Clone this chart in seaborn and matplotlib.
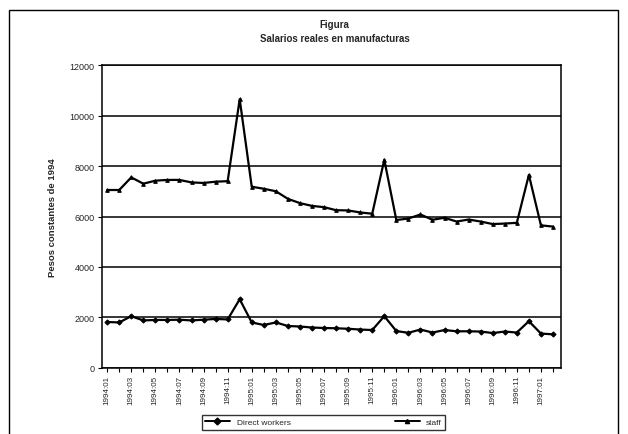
import numpy as np
import pandas as pd
import matplotlib
matplotlib.use('Agg')
import matplotlib.pyplot as plt
from matplotlib.patches import Rectangle
import seaborn as sns

sns.set_style('white')
plt.rcParams['font.family'] = ['Liberation Sans', 'DejaVu Sans']

# meses 1994:01 - 1997:02
months = [f'{y}:{m:02d}' for y in (1994, 1995, 1996) for m in range(1, 13)] + ['1997:01', '1997:02']

staff = [7050, 7050, 7550, 7300, 7420, 7450, 7450, 7350, 7330, 7380,
         7400, 10650, 7180, 7100, 7000, 6700, 6530, 6420, 6370, 6250,
         6240, 6160, 6110, 8250, 5860, 5920, 6080, 5870, 5950, 5800,
         5880, 5800, 5700, 5720, 5750, 7650, 5650, 5600]

direct_workers = [1820, 1800, 2050, 1880, 1900, 1900, 1910, 1880, 1910, 1940,
                  1920, 2720, 1800, 1700, 1800, 1660, 1640, 1600, 1580, 1570,
                  1550, 1520, 1500, 2050, 1460, 1390, 1520, 1400, 1500, 1450,
                  1450, 1440, 1380, 1440, 1400, 1850, 1360, 1330]

df = pd.DataFrame({'idx': np.arange(len(months)), 'mes': months,
                   'Direct workers': direct_workers, 'staff': staff})
long_df = df.melt(id_vars=['idx', 'mes'], var_name='serie', value_name='valor')

fig = plt.figure(figsize=(6.28, 4.35), dpi=100)
ax = fig.add_axes([0.162, 0.152, 0.731, 0.696])

sns.lineplot(data=long_df, x='idx', y='valor', hue='serie', style='serie',
             palette=['black', 'black'], markers={'Direct workers': 'D', 'staff': '^'},
             dashes=False, markersize=2.6, linewidth=1.6, markeredgecolor='black',
             ax=ax, legend=False)

ax.set_xlim(-0.45, len(months) - 0.35)
ax.set_ylim(0, 12000)
ax.set_yticks(range(0, 12001, 2000))
ax.set_yticklabels([str(v) for v in range(0, 12001, 2000)], fontsize=6.5)
ax.set_xticks(df['idx'])
ax.set_xticklabels([m if i % 2 == 0 else '' for i, m in enumerate(months)],
                   rotation=90, fontsize=5.8)
ax.tick_params(axis='both', direction='out', length=3, width=0.8, color='black',
               bottom=True, left=True, pad=2)
ax.grid(axis='y', color='black', linewidth=1.1)
ax.set_axisbelow(True)
for s in ax.spines.values():
    s.set_color('black')
    s.set_linewidth(1.1)

ax.set_xlabel('')
ax.set_ylabel('Pesos constantes de 1994', fontsize=6.8, fontweight='bold', labelpad=9)

fig.text(0.533, 0.935, 'Figura', ha='center', fontsize=7, fontweight='bold')
fig.text(0.533, 0.903, 'Salarios reales en manufacturas', ha='center', fontsize=7, fontweight='bold')

# leyenda
handles = [plt.Line2D([], [], color='black', marker='D', markersize=3.5, lw=1.4),
           plt.Line2D([], [], color='black', marker='^', markersize=3, lw=1.4)]
leg = fig.legend(handles, ['Direct workers', 'staff'], loc='center',
                 bbox_to_anchor=(0.515, 0.027), ncol=2, fontsize=6, frameon=True,
                 fancybox=False, edgecolor='black', columnspacing=12.5,
                 handlelength=3, borderpad=0.4)
leg.get_frame().set_linewidth(1.0)

fig.add_artist(Rectangle((0.014, -0.01), 0.97, 0.985, transform=fig.transFigure,
                         fill=False, edgecolor='black', linewidth=1.0))

fig.savefig('out.png', dpi=100)
